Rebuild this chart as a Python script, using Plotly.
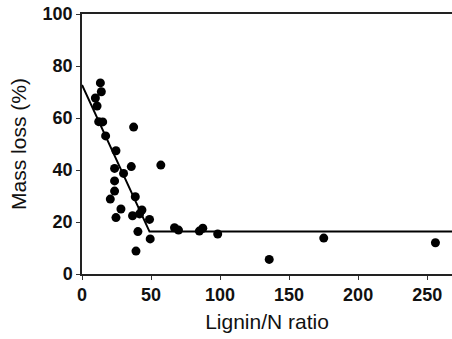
import plotly.graph_objects as go

# Observed points (Lignin/N ratio, Mass loss %)
lignin_n = [13.3, 14.0, 9.7, 10.9, 12.1, 15.0, 37.4, 17.1, 24.6, 23.6, 35.7, 30.1,
            57.1, 23.6, 23.6, 20.5, 38.6, 28.2, 24.6, 36.6, 43.4, 41.7, 48.9, 40.5,
            49.4, 39.1, 67.0, 69.9, 85.0, 87.5, 98.3, 135.6, 175.1, 256.0]
mass_loss = [73.5, 70.1, 67.7, 64.6, 58.6, 58.5, 56.5, 53.1, 47.4, 40.6, 41.3, 38.7,
             41.9, 35.8, 31.9, 28.8, 29.7, 25.0, 21.7, 22.4, 24.6, 23.1, 21.0, 16.3,
             13.5, 8.8, 17.8, 16.9, 16.5, 17.6, 15.4, 5.6, 13.8, 12.0]

# Piecewise (broken-stick) fit
fit_x = [0, 48.9, 268]
fit_y = [72.7, 16.3, 16.3]

x_ticks = [0, 50, 100, 150, 200, 250]
y_ticks = [0, 20, 40, 60, 80, 100]

fig = go.Figure()
fig.add_trace(go.Scatter(x=fit_x, y=fit_y, mode="lines",
                         line=dict(color="black", width=2), showlegend=False,
                         cliponaxis=False))
fig.add_trace(go.Scatter(x=lignin_n, y=mass_loss, mode="markers",
                         marker=dict(color="black", size=9), showlegend=False))

tickfont = dict(family="Liberation Sans, Arial, sans-serif", size=18, color="#111", weight="bold")
titlefont = dict(family="Liberation Sans, Arial, sans-serif", size=21, color="#111")

fig.update_layout(
    width=452, height=339,
    margin=dict(l=82, r=0, t=14, b=65),
    paper_bgcolor="white", plot_bgcolor="white",
    xaxis=dict(range=[0, 268], tickvals=x_ticks, ticks="outside", ticklen=4,
               tickwidth=1, tickcolor="#333", showline=True, linecolor="#222",
               linewidth=1.5, mirror=True, showgrid=False, zeroline=False,
               tickfont=tickfont, automargin=False,
               title=dict(text="Lignin/N ratio", font=titlefont, standoff=10)),
    yaxis=dict(range=[0, 100], tickvals=y_ticks, ticks="outside", ticklen=4,
               tickwidth=1, tickcolor="#333", showline=True, linecolor="#222",
               linewidth=1.5, showgrid=False, zeroline=False,
               tickfont=tickfont, automargin=False,
               title=dict(text="Mass loss (%)", font=titlefont, standoff=10)),
)

fig.write_html("out.html", config={"displayModeBar": False},
               post_script="document.body.style.margin='0';document.body.style.padding='0';")
